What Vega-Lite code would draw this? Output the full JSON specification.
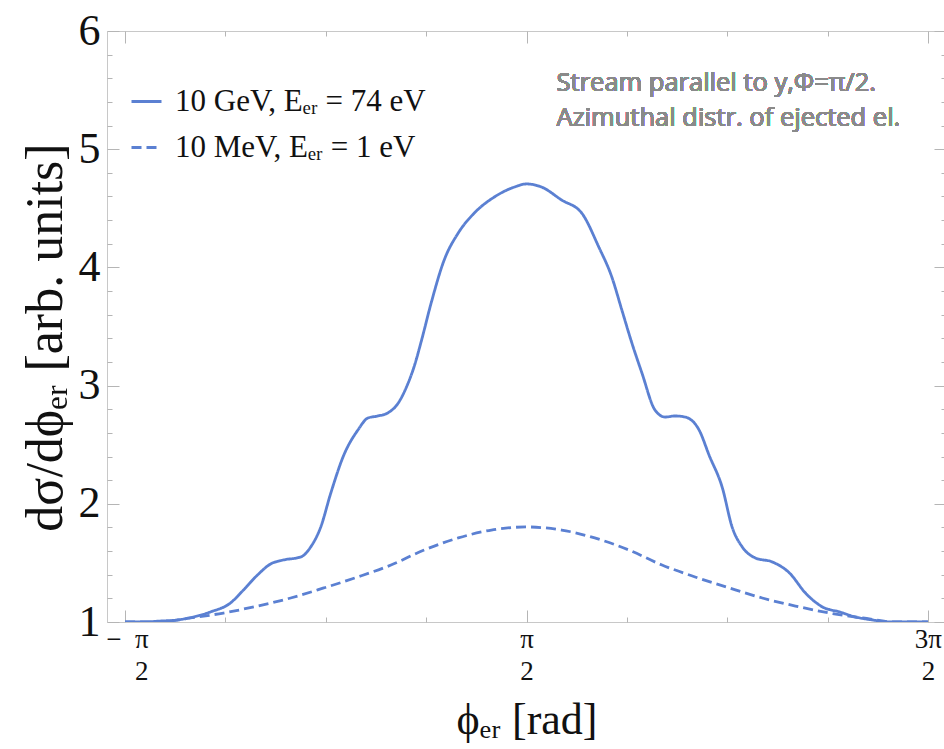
{
  "$schema": "https://vega.github.io/schema/vega-lite/v6.json",
  "width": 839,
  "height": 591,
  "autosize": {"type": "none"},
  "padding": {"left": 107, "top": 31, "right": 0, "bottom": 127},
  "background": "white",
  "config": {
    "view": {"stroke": "#c8c8c8", "strokeWidth": 1},
    "axis": {
      "grid": false,
      "domain": false,
      "tickColor": "#b5b5b5",
      "tickWidth": 1,
      "labelFont": "Liberation Serif",
      "titleFont": "Liberation Serif",
      "labelColor": "#111111",
      "titleColor": "#111111",
      "titleFontWeight": "normal"
    }
  },
  "data": {
    "values": [
      {"phi": -1.5708, "v": 1.0, "s": "10 GeV, Eₑᵣ = 74 eV"},
      {"phi": -1.4294, "v": 1.0, "s": "10 GeV, Eₑᵣ = 74 eV"},
      {"phi": -1.2959, "v": 1.008, "s": "10 GeV, Eₑᵣ = 74 eV"},
      {"phi": -1.1624, "v": 1.017, "s": "10 GeV, Eₑᵣ = 74 eV"},
      {"phi": -1.0367, "v": 1.042, "s": "10 GeV, Eₑᵣ = 74 eV"},
      {"phi": -0.9032, "v": 1.085, "s": "10 GeV, Eₑᵣ = 74 eV"},
      {"phi": -0.7461, "v": 1.161, "s": "10 GeV, Eₑᵣ = 74 eV"},
      {"phi": -0.644, "v": 1.271, "s": "10 GeV, Eₑᵣ = 74 eV"},
      {"phi": -0.5341, "v": 1.398, "s": "10 GeV, Eₑᵣ = 74 eV"},
      {"phi": -0.432, "v": 1.491, "s": "10 GeV, Eₑᵣ = 74 eV"},
      {"phi": -0.3299, "v": 1.525, "s": "10 GeV, Eₑᵣ = 74 eV"},
      {"phi": -0.1964, "v": 1.55, "s": "10 GeV, Eₑᵣ = 74 eV"},
      {"phi": -0.1178, "v": 1.635, "s": "10 GeV, Eₑᵣ = 74 eV"},
      {"phi": -0.0393, "v": 1.804, "s": "10 GeV, Eₑᵣ = 74 eV"},
      {"phi": 0.0393, "v": 2.091, "s": "10 GeV, Eₑᵣ = 74 eV"},
      {"phi": 0.1414, "v": 2.413, "s": "10 GeV, Eₑᵣ = 74 eV"},
      {"phi": 0.2513, "v": 2.624, "s": "10 GeV, Eₑᵣ = 74 eV"},
      {"phi": 0.3299, "v": 2.726, "s": "10 GeV, Eₑᵣ = 74 eV"},
      {"phi": 0.4084, "v": 2.743, "s": "10 GeV, Eₑᵣ = 74 eV"},
      {"phi": 0.4869, "v": 2.77, "s": "10 GeV, Eₑᵣ = 74 eV"},
      {"phi": 0.5655, "v": 2.85, "s": "10 GeV, Eₑᵣ = 74 eV"},
      {"phi": 0.6283, "v": 2.98, "s": "10 GeV, Eₑᵣ = 74 eV"},
      {"phi": 0.6912, "v": 3.16, "s": "10 GeV, Eₑᵣ = 74 eV"},
      {"phi": 0.7461, "v": 3.37, "s": "10 GeV, Eₑᵣ = 74 eV"},
      {"phi": 0.8247, "v": 3.699, "s": "10 GeV, Eₑᵣ = 74 eV"},
      {"phi": 0.9268, "v": 4.063, "s": "10 GeV, Eₑᵣ = 74 eV"},
      {"phi": 1.0367, "v": 4.291, "s": "10 GeV, Eₑᵣ = 74 eV"},
      {"phi": 1.1624, "v": 4.46, "s": "10 GeV, Eₑᵣ = 74 eV"},
      {"phi": 1.3195, "v": 4.596, "s": "10 GeV, Eₑᵣ = 74 eV"},
      {"phi": 1.4766, "v": 4.68, "s": "10 GeV, Eₑᵣ = 74 eV"},
      {"phi": 1.5708, "v": 4.706, "s": "10 GeV, Eₑᵣ = 74 eV"},
      {"phi": 1.6886, "v": 4.68, "s": "10 GeV, Eₑᵣ = 74 eV"},
      {"phi": 1.8457, "v": 4.57, "s": "10 GeV, Eₑᵣ = 74 eV"},
      {"phi": 2.0028, "v": 4.46, "s": "10 GeV, Eₑᵣ = 74 eV"},
      {"phi": 2.1363, "v": 4.173, "s": "10 GeV, Eₑᵣ = 74 eV"},
      {"phi": 2.2384, "v": 3.919, "s": "10 GeV, Eₑᵣ = 74 eV"},
      {"phi": 2.3169, "v": 3.64, "s": "10 GeV, Eₑᵣ = 74 eV"},
      {"phi": 2.3955, "v": 3.36, "s": "10 GeV, Eₑᵣ = 74 eV"},
      {"phi": 2.474, "v": 3.107, "s": "10 GeV, Eₑᵣ = 74 eV"},
      {"phi": 2.5761, "v": 2.794, "s": "10 GeV, Eₑᵣ = 74 eV"},
      {"phi": 2.6547, "v": 2.734, "s": "10 GeV, Eₑᵣ = 74 eV"},
      {"phi": 2.7332, "v": 2.743, "s": "10 GeV, Eₑᵣ = 74 eV"},
      {"phi": 2.8117, "v": 2.734, "s": "10 GeV, Eₑᵣ = 74 eV"},
      {"phi": 2.9217, "v": 2.624, "s": "10 GeV, Eₑᵣ = 74 eV"},
      {"phi": 3.0003, "v": 2.41, "s": "10 GeV, Eₑᵣ = 74 eV"},
      {"phi": 3.1023, "v": 2.14, "s": "10 GeV, Eₑᵣ = 74 eV"},
      {"phi": 3.1809, "v": 1.8, "s": "10 GeV, Eₑᵣ = 74 eV"},
      {"phi": 3.2594, "v": 1.635, "s": "10 GeV, Eₑᵣ = 74 eV"},
      {"phi": 3.3615, "v": 1.542, "s": "10 GeV, Eₑᵣ = 74 eV"},
      {"phi": 3.495, "v": 1.508, "s": "10 GeV, Eₑᵣ = 74 eV"},
      {"phi": 3.6285, "v": 1.415, "s": "10 GeV, Eₑᵣ = 74 eV"},
      {"phi": 3.7542, "v": 1.245, "s": "10 GeV, Eₑᵣ = 74 eV"},
      {"phi": 3.8877, "v": 1.127, "s": "10 GeV, Eₑᵣ = 74 eV"},
      {"phi": 4.0212, "v": 1.085, "s": "10 GeV, Eₑᵣ = 74 eV"},
      {"phi": 4.1469, "v": 1.042, "s": "10 GeV, Eₑᵣ = 74 eV"},
      {"phi": 4.2804, "v": 1.017, "s": "10 GeV, Eₑᵣ = 74 eV"},
      {"phi": 4.4139, "v": 1.0, "s": "10 GeV, Eₑᵣ = 74 eV"},
      {"phi": 4.7124, "v": 1.0, "s": "10 GeV, Eₑᵣ = 74 eV"},
      {"phi": -1.5708, "v": 1.0, "s": "10 MeV, Eₑᵣ = 1 eV"},
      {"phi": -1.3195, "v": 1.0, "s": "10 MeV, Eₑᵣ = 1 eV"},
      {"phi": -1.0604, "v": 1.034, "s": "10 MeV, Eₑᵣ = 1 eV"},
      {"phi": -0.8012, "v": 1.076, "s": "10 MeV, Eₑᵣ = 1 eV"},
      {"phi": -0.5341, "v": 1.135, "s": "10 MeV, Eₑᵣ = 1 eV"},
      {"phi": -0.2749, "v": 1.203, "s": "10 MeV, Eₑᵣ = 1 eV"},
      {"phi": -0.0157, "v": 1.288, "s": "10 MeV, Eₑᵣ = 1 eV"},
      {"phi": 0.2513, "v": 1.381, "s": "10 MeV, Eₑᵣ = 1 eV"},
      {"phi": 0.5105, "v": 1.482, "s": "10 MeV, Eₑᵣ = 1 eV"},
      {"phi": 0.7697, "v": 1.609, "s": "10 MeV, Eₑᵣ = 1 eV"},
      {"phi": 1.0367, "v": 1.711, "s": "10 MeV, Eₑᵣ = 1 eV"},
      {"phi": 1.2959, "v": 1.778, "s": "10 MeV, Eₑᵣ = 1 eV"},
      {"phi": 1.5708, "v": 1.804, "s": "10 MeV, Eₑᵣ = 1 eV"},
      {"phi": 1.8457, "v": 1.778, "s": "10 MeV, Eₑᵣ = 1 eV"},
      {"phi": 2.1049, "v": 1.711, "s": "10 MeV, Eₑᵣ = 1 eV"},
      {"phi": 2.3719, "v": 1.609, "s": "10 MeV, Eₑᵣ = 1 eV"},
      {"phi": 2.6311, "v": 1.482, "s": "10 MeV, Eₑᵣ = 1 eV"},
      {"phi": 2.8903, "v": 1.381, "s": "10 MeV, Eₑᵣ = 1 eV"},
      {"phi": 3.1573, "v": 1.288, "s": "10 MeV, Eₑᵣ = 1 eV"},
      {"phi": 3.4165, "v": 1.203, "s": "10 MeV, Eₑᵣ = 1 eV"},
      {"phi": 3.6757, "v": 1.135, "s": "10 MeV, Eₑᵣ = 1 eV"},
      {"phi": 3.9428, "v": 1.076, "s": "10 MeV, Eₑᵣ = 1 eV"},
      {"phi": 4.202, "v": 1.034, "s": "10 MeV, Eₑᵣ = 1 eV"},
      {"phi": 4.4611, "v": 1.0, "s": "10 MeV, Eₑᵣ = 1 eV"},
      {"phi": 4.7124, "v": 1.0, "s": "10 MeV, Eₑᵣ = 1 eV"}
    ]
  },
  "resolve": {"axis": {"x": "independent", "y": "independent"}},
  "layer": [
    {
      "mark": {"type": "line", "color": "#5b80d2", "strokeWidth": 2.8, "interpolate": "monotone", "clip": true},
      "encoding": {
        "x": {
          "field": "phi", "type": "quantitative",
          "scale": {"domain": [-1.7122, 4.8538], "nice": false, "zero": false},
          "axis": {
            "orient": "bottom",
            "values": [-1.5708, -0.7854, 0, 0.7854, 1.5708, 2.3562, 3.1416, 3.927, 4.7124],
            "tickSize": {"condition": {"test": "abs(datum.value/3.14159 - 0.5 - round(datum.value/3.14159 - 0.5)) < 0.01", "value": -12}, "value": -5},
            "labelExpr": "abs(datum.value + 1.5708) < 0.01 ? ['−\u2007π', '2'] : abs(datum.value - 1.5708) < 0.01 ? ['π', '2'] : abs(datum.value - 4.7124) < 0.01 ? ['3π', '2'] : ''",
            "labelAlign": {"condition": {"test": "datum.value < -1", "value": "right"}, "value": "center"},
            "labelOffset": {"condition": {"test": "datum.value < -1", "value": 23}, "value": 0},
            "labelFontSize": 27,
            "labelLineHeight": 32,
            "labelPadding": 16,
            "labelFlush": false,
            "labelOverlap": false,
            "title": "ϕₑᵣ [rad]",
            "titleFontSize": 44,
            "titlePadding": 14
          }
        },
        "y": {
          "field": "v", "type": "quantitative",
          "scale": {"domain": [1, 6], "nice": false, "zero": false},
          "axis": {
            "orient": "left",
            "values": [1, 1.2, 1.4, 1.6, 1.8, 2, 2.2, 2.4, 2.6, 2.8, 3, 3.2, 3.4, 3.6, 3.8, 4, 4.2, 4.4, 4.6, 4.8, 5, 5.2, 5.4, 5.6, 5.8, 6],
            "tickSize": {"condition": {"test": "abs(datum.value - round(datum.value)) < 0.01", "value": -12}, "value": -5},
            "labelExpr": "abs(datum.value - round(datum.value)) < 0.01 ? format(datum.value, 'd') : ''",
            "labelFontSize": 44,
            "labelPadding": 19,
            "labelFlush": false,
            "labelOverlap": false,
            "title": "dσ/dϕₑᵣ [arb. units]",
            "titleFontSize": 52,
            "titlePadding": 6,
            "titleY": 306
          }
        },
        "strokeDash": {
          "field": "s", "type": "nominal",
          "scale": {"domain": ["10 GeV, Eₑᵣ = 74 eV", "10 MeV, Eₑᵣ = 1 eV"], "range": [[1, 0], [10, 5]]},
          "legend": {
            "title": null,
            "orient": "none",
            "legendX": 23,
            "legendY": 54,
            "padding": 0,
            "symbolType": "stroke",
            "symbolSize": 900,
            "symbolStrokeWidth": 3,
            "symbolStrokeColor": "#5b80d2",
            "labelFont": "Liberation Serif",
            "labelFontSize": 31,
            "labelColor": "#111111",
            "labelOffset": 12,
            "labelLimit": 500,
            "rowPadding": 14
          }
        }
      }
    },
    {
      "mark": {
        "type": "text",
        "text": ["Stream parallel to y,Φ=π/2.", "Azimuthal distr. of ejected el."],
        "align": "left",
        "baseline": "alphabetic",
        "font": "Open Sans",
        "fontSize": 25.5,
        "lineHeight": 35,
        "color": "#8a8a8a"
      },
      "encoding": {
        "x": {
          "datum": 1.8064, "type": "quantitative",
          "scale": {"domain": [-1.7122, 4.8538], "nice": false, "zero": false},
          "axis": {
            "orient": "top",
            "values": [-1.5708, -0.7854, 0, 0.7854, 1.5708, 2.3562, 3.1416, 3.927, 4.7124],
            "tickSize": {"condition": {"test": "abs(datum.value/3.14159 - 0.5 - round(datum.value/3.14159 - 0.5)) < 0.01", "value": -12}, "value": -5},
            "labels": false,
            "title": null
          }
        },
        "y": {
          "datum": 5.49, "type": "quantitative",
          "scale": {"domain": [1, 6], "nice": false, "zero": false},
          "axis": {
            "orient": "right",
            "values": [1, 1.2, 1.4, 1.6, 1.8, 2, 2.2, 2.4, 2.6, 2.8, 3, 3.2, 3.4, 3.6, 3.8, 4, 4.2, 4.4, 4.6, 4.8, 5, 5.2, 5.4, 5.6, 5.8, 6],
            "tickSize": {"condition": {"test": "abs(datum.value - round(datum.value)) < 0.01", "value": -12}, "value": -5},
            "labels": false,
            "title": null
          }
        }
      }
    }
  ]
}
